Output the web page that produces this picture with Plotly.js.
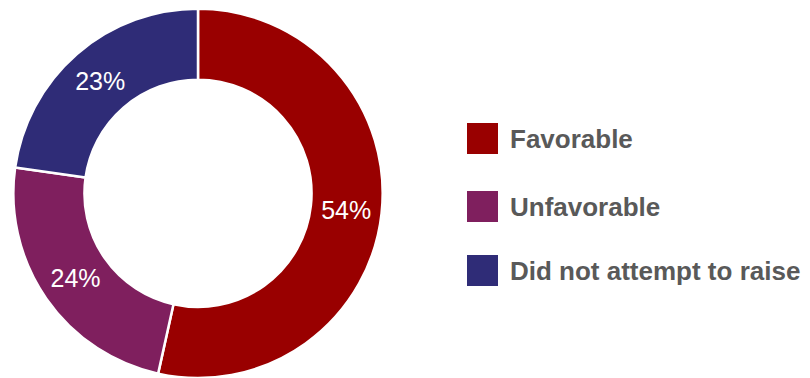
<!DOCTYPE html>
<html>
<head>
<meta charset="utf-8">
<script src="https://cdn.plot.ly/plotly-3.0.1.min.js"></script>
<style>
  html, body { margin: 0; padding: 0; background: #ffffff; }
  #chart { width: 810px; height: 378px; }
</style>
</head>
<body>
<div id="chart"></div>
<script>
const categories = ["Favorable", "Unfavorable", "Did not attempt to raise"];
const values = [54, 24, 23];
const colors = ["#990000", "#7F1F5E", "#2F2C77"];

const W = 810, H = 378;

const trace = {
  type: "pie",
  labels: categories,
  values: values,
  sort: false,
  direction: "clockwise",
  rotation: 0,
  hole: 0.615,
  marker: { colors: colors, line: { color: "#ffffff", width: 2.5 } },
  texttemplate: "%{value}%",
  textposition: "inside",
  insidetextorientation: "horizontal",
  insidetextfont: { family: "Liberation Sans, Arial, sans-serif", size: 25, color: "#ffffff" },
  domain: { x: [13 / W, 383 / W], y: [0, 0.977] },
  showlegend: false,
  hoverinfo: "label+percent"
};

// Legend drawn as layout decorations from the category/colour arrays
const rowCenters = [138.5, 206.5, 270.5]; // px from top
const shapes = [];
const annotations = [];
categories.forEach((c, i) => {
  const cy = rowCenters[i];
  shapes.push({
    type: "rect", xref: "paper", yref: "paper",
    x0: 467 / W, x1: 498 / W,
    y0: 1 - (cy + 15.5) / H, y1: 1 - (cy - 15.5) / H,
    fillcolor: colors[i], line: { width: 0 }
  });
  annotations.push({
    xref: "paper", yref: "paper",
    x: 508 / W, y: 1 - cy / H,
    xanchor: "left", yanchor: "middle",
    showarrow: false,
    text: "<b>" + c + "</b>",
    font: { family: "Liberation Sans, Arial, sans-serif", size: 26, color: "#595959" }
  });
});

const layout = {
  width: W, height: H,
  margin: { l: 0, r: 0, t: 0, b: 0, pad: 0 },
  paper_bgcolor: "#ffffff",
  plot_bgcolor: "#ffffff",
  showlegend: false,
  shapes: shapes,
  annotations: annotations
};

Plotly.newPlot("chart", [trace], layout, { displayModeBar: false, staticPlot: true });
</script>
</body>
</html>
